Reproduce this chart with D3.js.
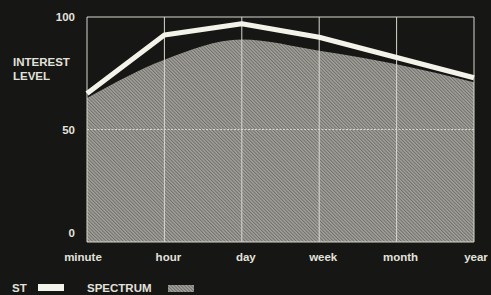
<!DOCTYPE html>
<html>
<head>
<meta charset="utf-8">
<script src="https://cdn.jsdelivr.net/npm/d3@7"></script>
<style>
  body { margin: 0; background: #161615; }
  text { font-family: "Liberation Sans Narrow", "Liberation Sans", Arial, sans-serif; font-weight: bold; fill: #e2e2dc; }
</style>
</head>
<body>
<div id="chart"></div>
<script>
var periods = ['minute', 'hour', 'day', 'week', 'month', 'year'];
var stValues = [66, 92, 97, 91, 82, 73];
var spectrumValues = [64, 81, 90, 85, 79, 71];
var yTicks = [0, 50, 100];

var width = 491, height = 295;
var margin = {top: 17, right: 17, bottom: 53, left: 87};

var svg = d3.select('#chart').append('svg')
	.attr('width', width)
	.attr('height', height);

svg.append('rect')
	.attr('width', width)
	.attr('height', height)
	.attr('fill', '#161615');

var defs = svg.append('defs');
var pat = defs.append('pattern')
	.attr('id', 'hatch')
	.attr('patternUnits', 'userSpaceOnUse')
	.attr('width', 2.4)
	.attr('height', 2.4)
	.attr('patternTransform', 'rotate(-45)');
pat.append('rect').attr('width', 2.4).attr('height', 2.4).attr('fill', '#a3a29c');
pat.append('rect').attr('width', 1).attr('height', 2.4).attr('fill', '#6f6e69');

var x = d3.scalePoint()
	.domain(periods)
	.range([margin.left, width - margin.right]);

var y = d3.scaleLinear()
	.domain([0, 100])
	.range([height - margin.bottom, margin.top]);

var g = svg.append('g');

// hatched spectrum area
var area = d3.area()
	.x(function(d, i) { return x(periods[i]); })
	.y0(y(0))
	.y1(function(d) { return y(d); })
	.curve(d3.curveMonotoneX);

g.append('path')
	.datum(spectrumValues)
	.attr('d', area)
	.attr('fill', 'url(#hatch)');

// grid
g.selectAll('.vgrid')
	.data(periods)
	.enter().append('line')
	.attr('class', 'vgrid')
	.attr('x1', function(d) { return x(d); })
	.attr('x2', function(d) { return x(d); })
	.attr('y1', y(100))
	.attr('y2', y(0))
	.attr('stroke', '#d8d8d0')
	.attr('stroke-width', 1);

g.append('line')
	.attr('x1', x.range()[0]).attr('x2', x.range()[1])
	.attr('y1', y(50)).attr('y2', y(50))
	.attr('stroke', '#d8d8d0')
	.attr('stroke-dasharray', '2,1.5');

g.selectAll('.hgrid')
	.data([0, 100])
	.enter().append('line')
	.attr('x1', x.range()[0]).attr('x2', x.range()[1])
	.attr('y1', function(d) { return y(d); })
	.attr('y2', function(d) { return y(d); })
	.attr('stroke', '#d8d8d0');

// ST line
var line = d3.line()
	.x(function(d, i) { return x(periods[i]); })
	.y(function(d) { return y(d); });

g.append('path')
	.datum(stValues)
	.attr('d', line)
	.attr('fill', 'none')
	.attr('stroke', '#f4f3ea')
	.attr('stroke-width', 5)
	.attr('stroke-linejoin', 'round');

// y tick labels
svg.selectAll('.ylab')
	.data(yTicks)
	.enter().append('text')
	.attr('x', 75)
	.attr('y', function(d) { return d == 0 ? y(d) - 5 : y(d) + 4; })
	.attr('text-anchor', 'end')
	.attr('font-size', 11.5)
	.text(function(d) { return d; });

// x tick labels
svg.selectAll('.xlab')
	.data(periods)
	.enter().append('text')
	.attr('x', function(d, i) { return x(d) + (i == 0 ? -4 : i == periods.length - 1 ? 2 : 4); })
	.attr('y', 261)
	.attr('text-anchor', 'middle')
	.attr('font-size', 11.5)
	.text(function(d) { return d; });

var yl = svg.append('text').attr('x', 13).attr('y', 66).attr('font-size', 11.5);
yl.append('tspan').attr('x', 13).text('INTEREST');
yl.append('tspan').attr('x', 13).attr('dy', 14).text('LEVEL');

// legend
svg.append('text').attr('x', 12).attr('y', 292).attr('font-size', 11.5).text('ST');
svg.append('rect').attr('x', 38).attr('y', 284).attr('width', 26).attr('height', 7).attr('fill', '#f4f3ea');
svg.append('text').attr('x', 87).attr('y', 292).attr('font-size', 11.5).text('SPECTRUM');
svg.append('rect').attr('x', 168).attr('y', 285).attr('width', 26).attr('height', 7).attr('fill', 'url(#hatch)');
</script>
</body>
</html>
